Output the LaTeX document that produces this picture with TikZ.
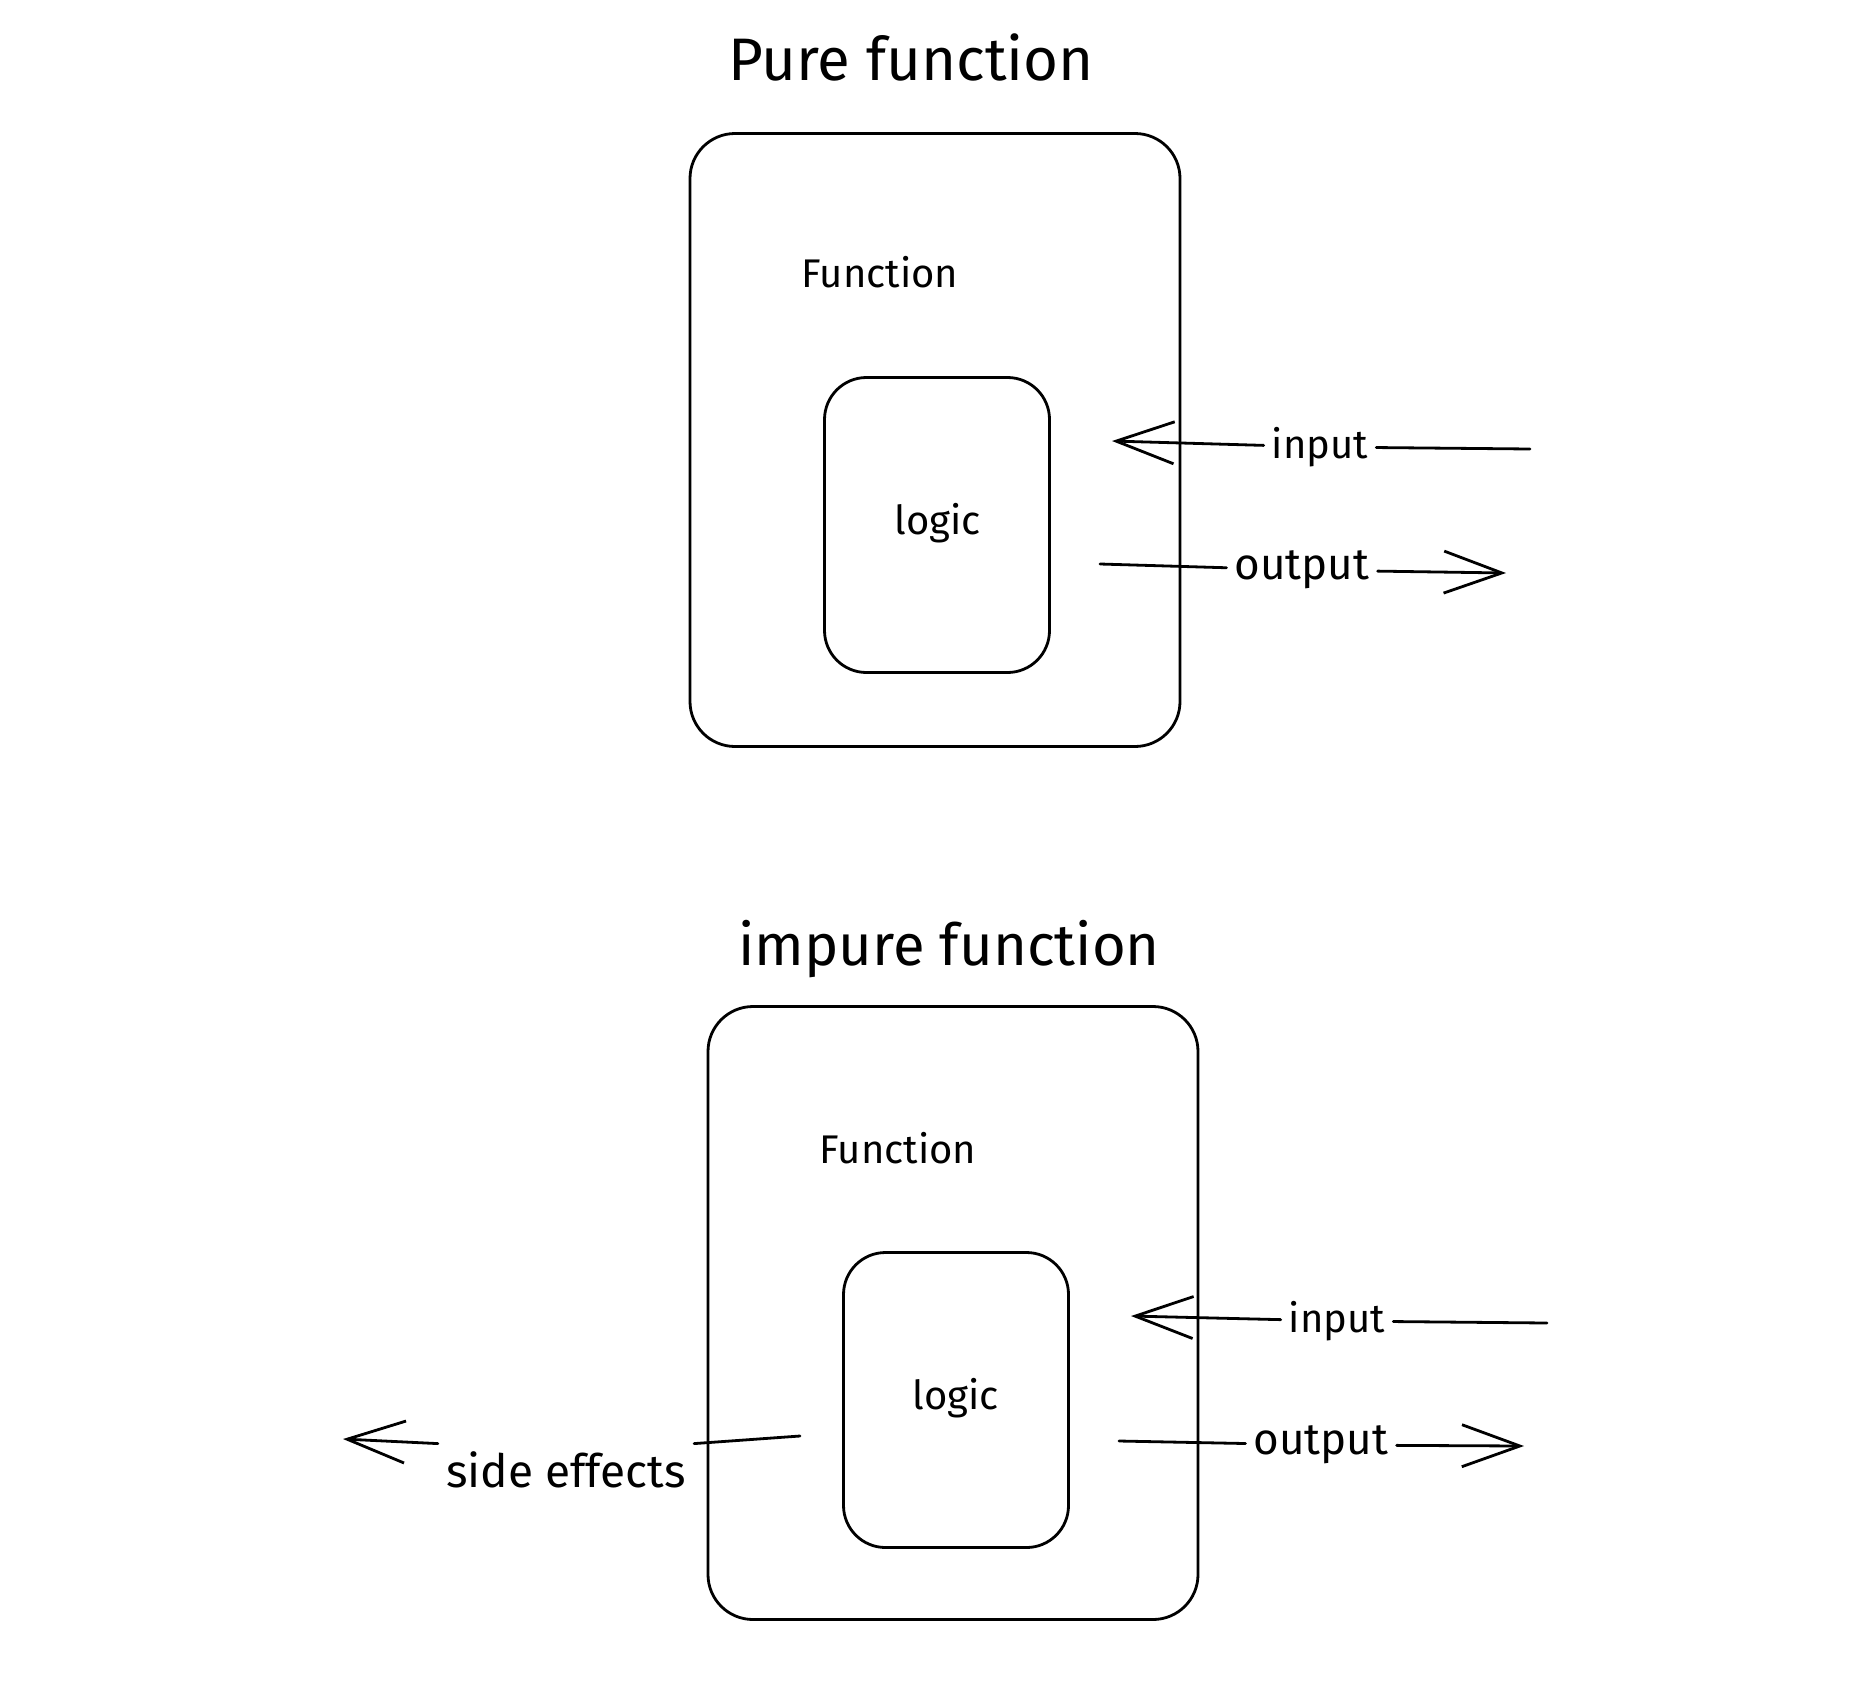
\documentclass[tikz,border=0pt]{standalone}
\usepackage{fontspec}
\setmainfont{Fira Sans}
\usetikzlibrary{arrows.meta, calc}

\tikzset{
    sketch/.style={line width=2.8pt, line cap=round, line join=round},
    outerbox/.style={sketch, draw, rounded corners=45pt, minimum width=490pt, minimum height=613pt},
    innerbox/.style={sketch, draw, rounded corners=42pt, minimum width=225pt, minimum height=295pt},
    titletext/.style={font=\fontsize{60}{72}\selectfont},
    boxtext/.style={font=\fontsize{40}{48}\selectfont, inner sep=8pt},
    flow/.style={sketch, -{Straight Barb[length=58pt, width=42pt, line width=2.8pt]}}
}

\begin{document}
\begin{tikzpicture}[x=1pt, y=-1pt]
        \useasboundingbox (0,0) rectangle (1852,1692);

        % pure function
        \node[titletext] (puretitle) at (911,57) {Pure function};
        \node[outerbox] (pureouter) at (935,440) {};
        \node[boxtext] (purefn) at (880,272) {Function};
        \node[innerbox] (pureinner) at (937,525) {};
        \node[boxtext] (purelogic) at (938,523) {logic};
        \coordinate (purein) at (1530,449);
        \coordinate (pureintip) at (1112,441);
        \node[boxtext] (pureinlabel) at (1320,447) {input};
        \draw[sketch] (purein) -- (pureinlabel);
        \draw[flow] (pureinlabel) -- (pureintip);
        \coordinate (pureout) at (1100,564);
        \coordinate (pureouttip) at (1506,573);
        \node[boxtext, font=\fontsize{44}{52}\selectfont] (pureoutlabel) at (1302,570) {output};
        \draw[sketch] (pureout) -- (pureoutlabel);
        \draw[flow] (pureoutlabel) -- (pureouttip);

        % impure function
        \node[titletext, font=\fontsize{58}{70}\selectfont] (imptitle) at (949,949) {impure function};
        \node[outerbox] (impouter) at (953,1313) {};
        \node[boxtext] (impfn) at (898,1148) {Function};
        \node[innerbox] (impinner) at (956,1400) {};
        \node[boxtext] (implogic) at (956,1398) {logic};
        \coordinate (impin) at (1547,1323);
        \coordinate (impintip) at (1131,1316);
        \node[boxtext] (impinlabel) at (1337,1321) {input};
        \draw[sketch] (impin) -- (impinlabel);
        \draw[flow] (impinlabel) -- (impintip);
        \coordinate (impout) at (1119,1441);
        \coordinate (impouttip) at (1524,1446);
        \node[boxtext, font=\fontsize{44}{52}\selectfont] (impoutlabel) at (1321,1445) {output};
        \draw[sketch] (impout) -- (impoutlabel);
        \draw[flow] (impoutlabel) -- (impouttip);

        % side effects
        \coordinate (impside) at (800,1436);
        \coordinate (impsidetip) at (343,1439);
        \node[boxtext, font=\fontsize{46}{54}\selectfont] (impsidelabel) at (566,1470) {side effects};
        \draw[sketch] (impside) -- (impsidelabel.north east);
        \draw[flow] (impsidelabel.north west) -- (impsidetip);
    \end{tikzpicture}
\end{document}
